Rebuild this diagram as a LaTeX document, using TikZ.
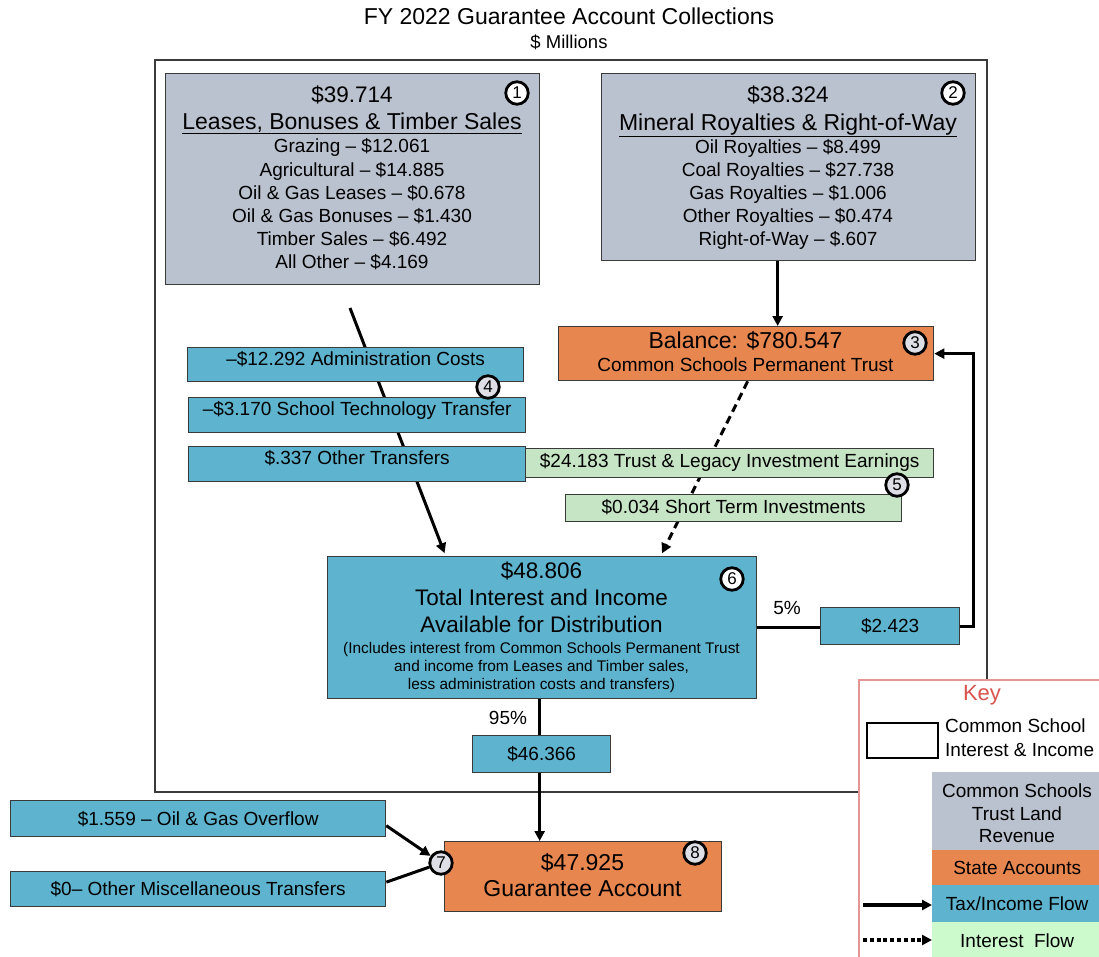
\documentclass[tikz,border=0pt]{standalone}
\usepackage{fontspec}
\setmainfont{Liberation Sans}
\usetikzlibrary{arrows.meta}
\definecolor{gry}{HTML}{BAC1CF}
\definecolor{org}{HTML}{E8864F}
\definecolor{blu}{HTML}{5EB3CE}
\definecolor{grn}{HTML}{C6E5C4}
\definecolor{kgrn}{HTML}{CCFACC}
\definecolor{bd}{HTML}{3A3A3A}
\definecolor{keyred}{HTML}{D9534F}
\definecolor{keyborder}{HTML}{E59595}
\definecolor{numfill}{HTML}{DEDEE6}
\pgfdeclarelayer{bg}
\pgfsetlayers{bg,main}
\newcommand\tx[5]{\node[anchor=base,inner sep=0pt,font=\fontsize{#4}{#4}\selectfont] (#1) at (#2,{#3+0.358*#4}) {#5};}
\begin{document}
\begin{tikzpicture}[x=1pt,y=-1pt,
  bx/.style={draw=bd, line width=1.3pt, inner sep=0pt, anchor=north west,
     font=\fontsize{19}{22}\selectfont, text height=13.6pt, text depth=0pt},
  up/.style={text depth=12pt},
  kbx/.style={inner sep=0pt, anchor=north west, minimum width=170pt,
     font=\fontsize{19}{22}\selectfont, text height=13.6pt, text depth=0pt},
  num/.style={circle, draw=black, line width=2.8pt, minimum size=22.5pt, inner sep=0pt,
     font=\fontsize{17}{17}\selectfont},
  flow/.style={line width=3pt, draw=black, -{Triangle[length=10pt,width=10pt]}},
  plain/.style={line width=3pt, draw=black},
  dflow/.style={line width=3pt, draw=black, dash pattern=on 8pt off 5pt, -{Triangle[length=10pt,width=10pt]}},
  kflowd/.style={line width=4pt, draw=black, dash pattern=on 4pt off 2.8pt, -{Triangle[length=10pt,width=10pt]}}
]
\useasboundingbox (0,0) rectangle (1099,957);
\clip (0,0) rectangle (1099,957);

% title
\tx{title}{569}{16}{23}{FY 2022 Guarantee Account Collections}
\tx{sub}{569}{42}{18.5}{\$ Millions}

% source boxes
\node[bx, fill=gry, minimum width=374pt, minimum height=211pt] (box1) at (165,73) {};
\tx{t1a}{352}{94}{22.5}{\$39.714}
\tx{t1b}{352}{121}{23}{\underline{Leases, Bonuses \& Timber Sales}}
\tx{t1c}{352}{146}{19}{Grazing – \$12.061}
\tx{t1d}{352}{170}{19}{Agricultural – \$14.885}
\tx{t1e}{352}{193}{19}{Oil \& Gas Leases – \$0.678}
\tx{t1f}{352}{216}{19}{Oil \& Gas Bonuses – \$1.430}
\tx{t1g}{352}{239}{19}{Timber Sales – \$6.492}
\tx{t1h}{352}{262}{19}{All Other – \$4.169}
\node[num, fill=white] (n1) at (517,93) {1};

\node[bx, fill=gry, minimum width=374pt, minimum height=187pt] (box2) at (601,73) {};
\tx{t2a}{788}{94}{22.5}{\$38.324}
\tx{t2b}{788}{122}{23}{\underline{Mineral Royalties \& Right-of-Way}}
\tx{t2c}{788}{146.5}{19}{Oil Royalties – \$8.499}
\tx{t2d}{788}{170}{19}{Coal Royalties – \$27.738}
\tx{t2e}{788}{192.5}{19}{Gas Royalties – \$1.006}
\tx{t2f}{788}{216}{19}{Other Royalties – \$0.474}
\tx{t2g}{788}{238.5}{19}{Right-of-Way – \$.607}
\node[num, fill=white] (n2) at (953,93) {2};

% permanent trust
\node[bx, fill=org, minimum width=375pt, minimum height=54pt] (box3) at (558,326) {};
\tx{t3a}{745.5}{340}{23}{Balance: \$780.547}
\tx{t3b}{745.5}{365}{19}{Common Schools Permanent Trust}
\node[num, fill=numfill] (n3) at (915,343) {3};

% deductions
\node[bx, up, fill=blu, minimum width=336pt, minimum height=34pt] (adm) at (187,347) {–\$12.292 Administration Costs};
\node[bx, up, fill=blu, minimum width=337pt, minimum height=35pt] (tech) at (188,397) {–\$3.170 School Technology Transfer};
\node[bx, up, fill=blu, minimum width=337pt, minimum height=35pt] (oth) at (188,446) {\$.337 Other Transfers};
\node[num, fill=numfill] (n4) at (488,387) {4};

% interest
\node[bx, fill=grn, minimum width=408pt, minimum height=29pt, text depth=4pt] (g1) at (525,448) {\$24.183 Trust \& Legacy Investment Earnings};
\node[bx, fill=grn, minimum width=336pt, minimum height=27pt, text depth=3pt] (g2) at (565,494) {\$0.034 Short Term Investments};
\node[num, fill=numfill] (n5) at (897,485) {5};

% total
\node[bx, fill=blu, minimum width=429pt, minimum height=142pt] (box6) at (327,556) {};
\tx{t6a}{541.5}{570}{22.5}{\$48.806}
\tx{t6b}{541.5}{597}{22.5}{Total Interest and Income}
\tx{t6c}{541.5}{624.5}{22.5}{Available for Distribution}
\tx{t6d}{541.5}{647.5}{15.4}{(Includes interest from Common Schools Permanent Trust}
\tx{t6e}{541.5}{666}{15.4}{and income from Leases and Timber sales,}
\tx{t6f}{541.5}{684}{15.4}{less administration costs and transfers)}
\node[num, fill=white] (n6) at (732,579) {6};

\node[bx, fill=blu, minimum width=139pt, minimum height=37pt] (b2423) at (820,607) {\$2.423};
\tx{p5}{787}{607.5}{19}{5\%}
\node[bx, fill=blu, minimum width=138pt, minimum height=37pt] (b46366) at (472,735) {\$46.366};
\tx{p95}{508}{717.5}{19}{95\%}

% guarantee
\node[bx, fill=org, minimum width=277pt, minimum height=70pt] (guar) at (444,841) {};
\tx{t8a}{582.5}{862}{23}{\$47.925}
\tx{t8b}{582.5}{888}{23}{Guarantee Account}
\node[num, fill=numfill] (n8) at (695,853) {8};

\node[bx, fill=blu, minimum width=375pt, minimum height=36pt] (b1559) at (10,800) {\$1.559 – Oil \& Gas Overflow};
\node[bx, fill=blu, minimum width=375pt, minimum height=35pt] (b0) at (10,871) {\$0– Other Miscellaneous Transfers};
\node[num, fill=numfill] (n7) at (441,863) {7};

% key
\filldraw[fill=white, draw=keyborder, line width=1.6pt] (859,680) rectangle (1130,990);
\tx{keyt}{982}{693}{22}{\textcolor{keyred}{Key}}
\node[draw=black, line width=1.8pt, inner sep=0pt, anchor=north west, minimum width=71pt, minimum height=35pt] (kwhite) at (866,722) {};
\node[anchor=base west, inner sep=0pt, font=\fontsize{19}{19}\selectfont] (kw1) at (945,{726+6.8}) {Common School};
\node[anchor=base west, inner sep=0pt, font=\fontsize{19}{19}\selectfont] (kw2) at (945,{750+6.8}) {Interest \& Income};
\node[kbx, fill=gry, minimum height=78pt] (kgry) at (932,772) {};
\tx{kg1}{1017}{791}{19}{Common Schools}
\tx{kg2}{1017}{814}{19}{Trust Land}
\tx{kg3}{1017}{836}{19}{Revenue}
\node[kbx, fill=org, minimum height=35pt] (korg) at (932,850) {State Accounts};
\node[kbx, fill=blu, minimum height=37pt] (kblu) at (932,885) {Tax/Income Flow};
\node[kbx, fill=kgrn, minimum height=36pt] (kgrnb) at (932,922) {Interest\ \ Flow};
\coordinate (ks1) at (863,905);
\coordinate (ks2) at (863,940);

% connectors (behind boxes)
\begin{pgfonlayer}{bg}
\fill[white] (0,0) rectangle (1099,957);
\draw[line width=1.3pt, draw=bd] (155,60) rectangle (987,792);
\coordinate (s1) at (350,308);
\draw[flow, shorten >=3pt] (s1) -- ([xshift=-96.5pt]box6.north);
\draw[dflow, shorten >=3pt] ([xshift=1.5pt]box3.south) -- ([xshift=118.5pt]box6.north);
\draw[flow] ([xshift=-11pt]box2.south) -- ([xshift=-11pt]box2.south |- box3.north);
\draw[plain] (box6.east) -- (box6.east -| b2423.west);
\draw[flow] (b2423.east) -- ++(13,0) |- (box3.east);
\draw[plain] ([xshift=-2.5pt]box6.south) -- ([xshift=-2.5pt]box6.south |- b46366.north);
\draw[flow] ([xshift=-2pt]b46366.south) -- ([xshift=-2pt]b46366.south |- guar.north);
\draw[flow] ([yshift=-7pt]b1559.east) -- (n7);
\draw[plain] ([yshift=7pt]b0.east) -- (n7);
\end{pgfonlayer}
\draw[flow, line width=3.5pt] (ks1) -- (ks1 -| kblu.west);
\draw[kflowd] (ks2) -- (ks2 -| kgrnb.west);
\end{tikzpicture}
\end{document}
